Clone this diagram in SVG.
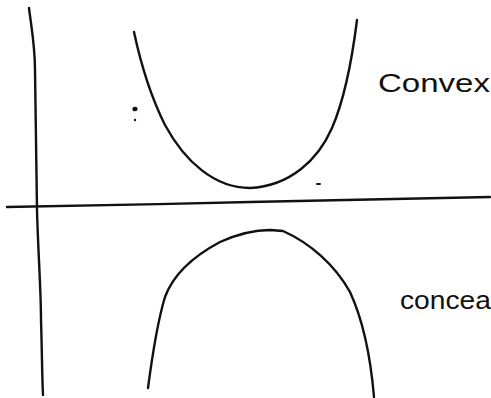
<svg xmlns="http://www.w3.org/2000/svg" width="491" height="398" viewBox="0 0 491 398">
<style>
.ln{fill:none;stroke:#111;stroke-width:2.4;stroke-linecap:round;stroke-linejoin:round}
.tx{font-family:"Liberation Sans",Arial,sans-serif;font-size:26px;fill:#111}
</style>
<rect width="491" height="398" fill="#fff"/>
<g id="axes">
<path class="ln" d="M29,8 C31,25 35,45 35,70 C36,120 36,170 37,210 C38,250 41,290 41,320 C42,350 42,375 43,395"/>
<path class="ln" d="M7,207 C80,206 170,204 250,202 C330,200 410,198 490,197"/>
</g>
<g id="convex-curve">
<path class="ln" d="M134,32 C140,60 150,95 165,125 C185,162 215,188 250,188 C290,186 318,160 332,128 C345,98 352,60 357,20"/>
</g>
<g id="concave-curve">
<path class="ln" d="M148,388 C153,350 158,320 165,297 C172,278 190,258 220,242 C240,233 255,230 270,230 L283,231 C310,243 335,265 350,292 C362,318 370,350 374,397"/>
</g>
<g id="marks" fill="#111">
<ellipse cx="135" cy="109" rx="2.6" ry="2.3"/>
<circle cx="135" cy="120" r="1.2"/>
<rect x="316" y="183" width="5" height="2" rx="1"/>
</g>
<g id="label-convex"><text class="tx" x="378" y="92" textLength="112" lengthAdjust="spacingAndGlyphs">Convex</text></g>
<g id="label-concave"><text class="tx" x="400" y="309" textLength="91" lengthAdjust="spacingAndGlyphs">concea</text></g>
</svg>
